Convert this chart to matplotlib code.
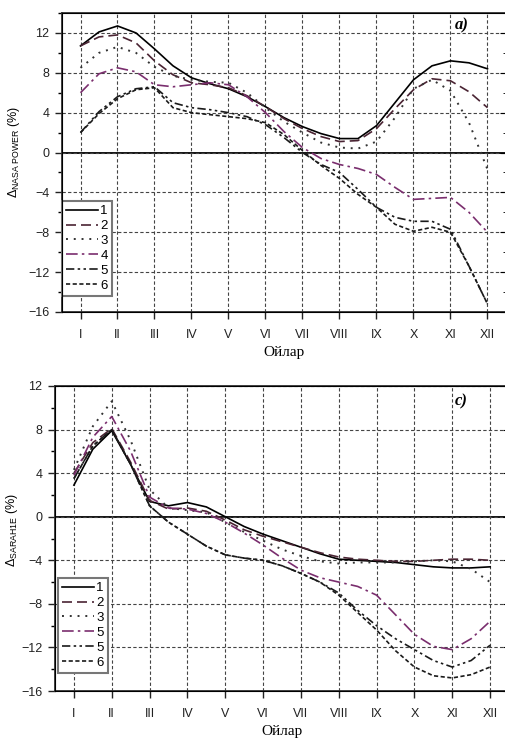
import matplotlib
matplotlib.use("Agg")
import matplotlib.pyplot as plt
from matplotlib.ticker import MultipleLocator

plt.rcParams['font.family'] = ['Liberation Sans', 'DejaVu Sans']
plt.rcParams['mathtext.fontset'] = 'custom'
plt.rcParams['mathtext.rm'] = 'Liberation Sans'
plt.rcParams['mathtext.it'] = 'Liberation Sans:italic'

# ---------------- data ----------------
month_pos = [1, 1.5, 2, 2.5, 3, 3.5, 4, 4.5, 5, 5.5, 6, 6.5, 7, 7.5, 8, 8.5,
             9, 9.5, 10, 10.5, 11, 11.5, 12]
month_labels = ['I', 'II', 'III', 'IV', 'V', 'VI', 'VII', 'VIII', 'IX', 'X', 'XI', 'XII']
month_ticks = [1, 2, 3, 4, 5, 6, 7, 8, 9, 10, 11, 12]

# panel a) Delta NASA POWER (%)
a_s1 = [10.7, 12.1, 12.7, 12.0, 10.4, 8.7, 7.5, 6.9, 6.4, 5.6, 4.6, 3.5, 2.6, 1.9, 1.4, 1.4,
        2.7, 5.0, 7.3, 8.7, 9.2, 9.0, 8.4]
a_s2 = [10.7, 11.6, 11.8, 11.0, 9.2, 7.8, 7.0, 6.8, 6.5, 5.7, 4.6, 3.4, 2.4, 1.6, 1.1, 1.2,
        2.4, 4.4, 6.3, 7.4, 7.2, 6.1, 4.5]
a_s3 = [8.5, 10.0, 10.6, 10.0, 8.6, 7.7, 7.3, 7.1, 7.0, 6.0, 4.5, 3.1, 2.0, 1.0, 0.5, 0.4,
        1.1, 3.5, 6.4, 7.3, 6.2, 3.0, -1.7]
a_s4 = [6.0, 7.9, 8.5, 8.1, 6.8, 6.6, 6.8, 7.0, 6.8, 5.6, 4.0, 2.1, 0.5, -0.6, -1.2, -1.6,
        -2.2, -3.5, -4.7, -4.6, -4.5, -6.0, -8.0]
a_s5 = [2.0, 4.1, 5.6, 6.4, 6.6, 5.0, 4.5, 4.3, 4.0, 3.6, 2.8, 1.5, 0.0, -1.2, -2.0, -3.7,
        -5.5, -6.5, -6.9, -6.9, -7.7, -11.4, -15.2]
a_s6 = [2.0, 3.9, 5.4, 6.3, 6.5, 4.5, 4.0, 3.8, 3.6, 3.4, 3.0, 1.8, 0.2, -1.3, -2.6, -4.2,
        -5.5, -7.2, -7.9, -7.5, -8.0, -11.4, -15.2]
a_labels = ['1', '2', '3', '4', '5', '6']

# panel c) Delta SARAH1E (%)
c_s1 = [2.9, 6.2, 7.9, 4.8, 1.4, 1.0, 1.3, 0.9, 0.0, -0.9, -1.6, -2.2, -2.8, -3.4, -3.9, -4.0,
        -4.1, -4.2, -4.4, -4.6, -4.7, -4.7, -4.6]
c_s2 = [4.0, 6.8, 8.1, 5.0, 1.5, 0.7, 0.8, 0.5, -0.3, -1.2, -1.8, -2.3, -2.8, -3.3, -3.7, -3.9,
        -4.0, -4.1, -4.1, -4.0, -3.9, -3.9, -4.0]
c_s3 = [4.3, 8.3, 10.6, 7.0, 2.5, 0.8, 0.6, 0.4, -0.5, -1.4, -2.2, -3.0, -3.6, -4.1, -4.3, -4.2,
        -4.2, -4.2, -4.1, -4.0, -4.1, -4.8, -6.0]
c_s4 = [3.8, 7.3, 9.2, 6.0, 1.8, 0.8, 0.7, 0.3, -0.5, -1.5, -2.6, -3.8, -4.9, -5.6, -6.0, -6.4,
        -7.2, -9.0, -10.8, -11.9, -12.2, -11.2, -9.6]
c_s5 = [3.5, 6.5, 8.0, 4.8, 1.0, -0.5, -1.6, -2.7, -3.5, -3.8, -4.0, -4.5, -5.2, -6.0, -7.0, -8.6,
        -10.0, -11.2, -12.2, -13.2, -13.8, -13.2, -11.8]
c_s6 = [3.5, 6.5, 8.0, 4.8, 1.0, -0.5, -1.6, -2.7, -3.5, -3.8, -4.0, -4.5, -5.2, -6.0, -7.2, -8.8,
        -10.4, -12.3, -13.8, -14.6, -14.8, -14.5, -13.8]
c_labels = ['1', '2', '3', '5', '5', '6']

# ---------------- styles ----------------
styles = [
    dict(color='black', ls='-', lw=1.2),
    dict(color='#4a2433', ls=(0, (6, 3)), lw=1.2),
    dict(color='#333333', ls=(0, (1, 3)), lw=1.4),
    dict(color='#7a2e6e', ls=(0, (7, 2.5, 1.5, 2.5)), lw=1.2),
    dict(color='#1a1a1a', ls=(0, (5, 2, 1.5, 2, 1.5, 2)), lw=1.2),
    dict(color='#1a1a1a', ls=(0, (2.5, 1.5)), lw=1.2),
]

W, H = 506, 740
fig = plt.figure(figsize=(W / 100, H / 100), dpi=100)


def make_panel(rect, series, labels, ylim, ylabel, tag, tag_xy, leg_anchor, label_xy):
    ax = fig.add_axes(rect)
    for s, lab, st in zip(series, labels, styles):
        ax.plot(month_pos, s, label=lab, solid_joinstyle='round', **st)
    ax.set_xlim(0.5, 12.5)
    ax.set_ylim(*ylim)
    ax.set_xticks(month_ticks)
    ax.set_xticklabels(month_labels)
    ax.yaxis.set_major_locator(MultipleLocator(4))
    ax.yaxis.set_minor_locator(MultipleLocator(2))
    ax.grid(True, which='major', color='#444444', ls=(0, (3, 2)), lw=0.8)
    ax.axhline(0, color='black', lw=1.3, zorder=1.5)
    ax.tick_params(axis='both', which='major', direction='out', length=5, width=1.0,
                   labelsize=9, pad=4, colors='#222222')
    ax.tick_params(axis='x', pad=7)
    ax.tick_params(axis='y', which='minor', direction='out', length=3, width=1.0)
    for sp in ax.spines.values():
        sp.set_color('#333333')
        sp.set_linewidth(1.3)
    axr = ax.twinx()
    axr.set_ylim(*ylim)
    axr.yaxis.set_major_locator(MultipleLocator(4))
    axr.yaxis.set_minor_locator(MultipleLocator(2))
    axr.tick_params(axis='y', which='both', direction='in', length=4, labelright=False)
    axr.tick_params(axis='y', which='minor', length=2.5)
    axr.spines['right'].set_color('#333333')
    ax.set_ylabel(ylabel, fontsize=9)
    ax.yaxis.set_label_coords(*label_xy)
    ax.set_xlabel('Ойлар', fontsize=11, family=['Liberation Serif', 'DejaVu Serif'], labelpad=4)
    ax.text(tag_xy[0], tag_xy[1], tag, transform=ax.transAxes, fontsize=12,
            fontweight='bold', fontstyle='italic', family=['Liberation Serif', 'DejaVu Serif'],
            ha='center', va='center')
    leg = ax.legend(loc='upper left', bbox_to_anchor=leg_anchor, borderaxespad=0,
                    fontsize=9.5, handlelength=2.4, handletextpad=0.2, labelspacing=0.2,
                    borderpad=0.3, fancybox=False, framealpha=1, edgecolor='#777777')
    leg.get_frame().set_linewidth(1.5)
    return ax


# panel a
x0, x1 = 62, 506
y0, y1 = 13, 312
make_panel([x0 / W, 1 - y1 / H, (x1 - x0) / W, (y1 - y0) / H],
           [a_s1, a_s2, a_s3, a_s4, a_s5, a_s6], a_labels, (-16, 14),
           r'$\Delta_{\mathrm{NASA\ POWER}}$ (%)', 'a)', (0.9, 0.96), (0.0, 0.371),
           ((22 - x0) / (x1 - x0), 0.535))

# panel c
x0, x1 = 55, 509
y0, y1 = 386, 691
make_panel([x0 / W, 1 - y1 / H, (x1 - x0) / W, (y1 - y0) / H],
           [c_s1, c_s2, c_s3, c_s4, c_s5, c_s6], c_labels, (-16, 12),
           r'$\Delta_{\mathrm{SARAH1E}}$ (%)', 'c)', (0.895, 0.948), (0.007, 0.37),
           ((20 - x0) / (x1 - x0), 0.528))

fig.savefig('out.png', dpi=100)
